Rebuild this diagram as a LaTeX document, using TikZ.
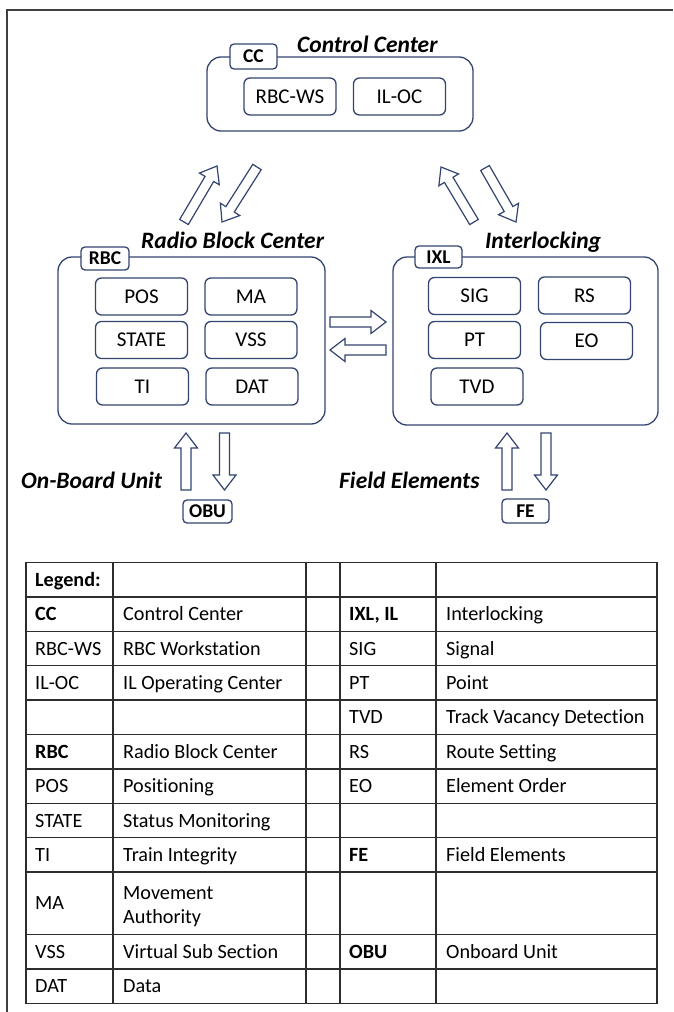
\documentclass[tikz,border=0pt]{standalone}
\usepackage{fontspec}
\setmainfont[Ligatures=NoCommon]{Carlito}
\usetikzlibrary{calc}
\definecolor{navy}{RGB}{52,68,112}
\definecolor{gridc}{RGB}{45,45,45}
\newcommand\blockarrow[2]{%
  \draw[barr] ($(#1)!5pt!90:(#2)$) -- ($(#2)!15pt!(#1)!5pt!-90:(#1)$)
   -- ($(#2)!15pt!(#1)!11.5pt!-90:(#1)$) -- (#2)
   -- ($(#2)!15pt!(#1)!11.5pt!90:(#1)$) -- ($(#2)!15pt!(#1)!5pt!90:(#1)$)
   -- ($(#1)!5pt!-90:(#2)$) -- cycle;}
\begin{document}
\begin{tikzpicture}[x=1pt,y=-1pt,
  bigbox/.style={draw=navy, line width=1.3pt, rounded corners=14pt, inner sep=0pt},
  subbox/.style={draw=navy, line width=1.3pt, rounded corners=6pt, inner sep=0pt,
    font=\fontsize{21}{25}\selectfont, minimum width=92pt, minimum height=37pt},
  tagbox/.style={draw=navy, fill=white, line width=1.3pt, rounded corners=4pt, inner sep=0pt,
    font=\fontsize{19.5}{22}\selectfont\bfseries},
  title/.style={font=\fontsize{23.5}{27}\selectfont\bfseries\itshape, anchor=base west, inner sep=0pt},
  barr/.style={draw=navy, fill=white, line width=1.2pt, line join=miter},
  cell/.style={font=\fontsize{20.2}{24}\selectfont, anchor=base west, inner sep=0pt},
  bcell/.style={cell, font=\fontsize{20.2}{24}\selectfont\bfseries},
  gridline/.style={draw=gridc, line width=1.4pt},
  frameline/.style={draw=black!75, line width=1.6pt},
]
\useasboundingbox (0,0) rectangle (673,1012);
\fill[white] (0,0) rectangle (673,1012);
\draw[frameline] (7,1012) -- (7,10) -- (673,10);

% ---------- Control Center ----------
\node[bigbox, minimum width=266pt, minimum height=74pt] (cc) at (340,94) {};
\node[tagbox, minimum width=47pt, minimum height=25pt] (cctag) at (253.5,56.5) {CC};
\node[title] (cctitle) at (297,52) {Control Center};
\node[subbox] (rbcws) at (290,96.5) {RBC-WS};
\node[subbox] (iloc) at (399.5,96.5) {IL-OC};

% ---------- Radio Block Center ----------
\node[bigbox, minimum width=267pt, minimum height=167pt] (rbc) at (191.5,340.5) {};
\node[tagbox, minimum width=48pt, minimum height=23pt] (rbctag) at (105,258.5) {RBC};
\node[title] (rbctitle) at (141,248) {Radio Block Center};
\node[subbox] (pos) at (141.5,296.5) {POS};
\node[subbox] (ma) at (251,296.5) {MA};
\node[subbox] (state) at (141.5,340) {STATE};
\node[subbox] (vss) at (251,340) {VSS};
\node[subbox] (ti) at (142.5,386.5) {TI};
\node[subbox] (dat) at (252,386.5) {DAT};

% ---------- Interlocking ----------
\node[bigbox, minimum width=265pt, minimum height=168pt] (ixl) at (525.5,341) {};
\node[tagbox, minimum width=47pt, minimum height=22pt] (ixltag) at (438.5,257) {IXL};
\node[title] (ixltitle) at (485,248) {Interlocking};
\node[subbox] (sig) at (474.5,296) {SIG};
\node[subbox] (rs) at (584.5,295.5) {RS};
\node[subbox] (pt) at (474.5,340) {PT};
\node[subbox] (eo) at (586.5,341) {EO};
\node[subbox] (tvd) at (477,386.5) {TVD};

% ---------- OBU / FE ----------
\node[title] (obutitle) at (21,488) {On-Board Unit};
\node[tagbox, minimum width=49pt, minimum height=23pt] (obu) at (207.5,511.5) {OBU};
\node[title] (fetitle) at (339,488) {Field Elements};
\node[tagbox, minimum width=47pt, minimum height=24pt] (fe) at (525.5,511) {FE};

% ---------- block arrows ----------
\coordinate (a1t) at (184,222); \coordinate (a1h) at (217,166);
\coordinate (a2t) at (257,167); \coordinate (a2h) at (222,222);
\coordinate (a3t) at (474,222); \coordinate (a3h) at (441,167);
\coordinate (a4t) at (485,168); \coordinate (a4h) at (516,222);
\coordinate (a5t) at (330,322); \coordinate (a5h) at (386,322);
\coordinate (a6t) at (386,350); \coordinate (a6h) at (330,350);
\coordinate (a7t) at (186,490); \coordinate (a7h) at (186,433);
\coordinate (a8t) at (224.5,433); \coordinate (a8h) at (224.5,490);
\coordinate (a9t) at (507,490); \coordinate (a9h) at (507,433);
\coordinate (a10t) at (546,433); \coordinate (a10h) at (546,490);
\blockarrow{a1t}{a1h}
\blockarrow{a2t}{a2h}
\blockarrow{a3t}{a3h}
\blockarrow{a4t}{a4h}
\blockarrow{a5t}{a5h}
\blockarrow{a6t}{a6h}
\blockarrow{a7t}{a7h}
\blockarrow{a8t}{a8h}
\blockarrow{a9t}{a9h}
\blockarrow{a10t}{a10h}

% ---------- Legend table ----------
\foreach \y in {596.9,631.3,665.7,700.1,734.5,768.9,803.3,837.7,872.1,934.6,969}
  \draw[gridline] (26,\y) -- (657,\y);
\foreach \x in {113,306,340,436}
  \draw[gridline] (\x,562.5) -- (\x,1003.4);
\draw[gridline] (26,562.5) rectangle (657,1003.4);

\node[bcell] (l1) at (35,586.2) {Legend:};
\node[bcell] (l2) at (35,620.6) {CC};
\node[cell] (l3) at (35,655) {RBC-WS};
\node[cell] (l4) at (35,689.4) {IL-OC};
\node[bcell] (l5) at (35,758.2) {RBC};
\node[cell] (l6) at (35,792.6) {POS};
\node[cell] (l7) at (35,827) {STATE};
\node[cell] (l8) at (35,861.4) {TI};
\node[cell] (l9) at (35,909.8) {MA};
\node[cell] (l10) at (35,958.3) {VSS};
\node[cell] (l11) at (35,992.7) {DAT};

\node[cell] (d2) at (123,620.6) {Control Center};
\node[cell] (d3) at (123,655) {RBC Workstation};
\node[cell] (d4) at (123,689.4) {IL Operating Center};
\node[cell] (d5) at (123,758.2) {Radio Block Center};
\node[cell] (d6) at (123,792.6) {Positioning};
\node[cell] (d7) at (123,827) {Status Monitoring};
\node[cell] (d8) at (123,861.4) {Train Integrity};
\node[cell] (d9a) at (123,899.5) {Movement};
\node[cell] (d9b) at (123,923.5) {Authority};
\node[cell] (d10) at (123,958.3) {Virtual Sub Section};
\node[cell] (d11) at (123,992.7) {Data};

\node[bcell] (r2) at (349,620.6) {IXL, IL};
\node[cell] (r3) at (349,655) {SIG};
\node[cell] (r4) at (349,689.4) {PT};
\node[cell] (r5) at (349,723.8) {TVD};
\node[cell] (r6) at (349,758.2) {RS};
\node[cell] (r7) at (349,792.6) {EO};
\node[bcell] (r9) at (349,861.4) {FE};
\node[bcell] (r10) at (349,958.3) {OBU};

\node[cell] (e2) at (446,620.6) {Interlocking};
\node[cell] (e3) at (446,655) {Signal};
\node[cell] (e4) at (446,689.4) {Point};
\node[cell] (e5) at (446,723.8) {Track Vacancy Detection};
\node[cell] (e6) at (446,758.2) {Route Setting};
\node[cell] (e7) at (446,792.6) {Element Order};
\node[cell] (e9) at (446,861.4) {Field Elements};
\node[cell] (e10) at (446,958.3) {Onboard Unit};
\end{tikzpicture}
\end{document}
